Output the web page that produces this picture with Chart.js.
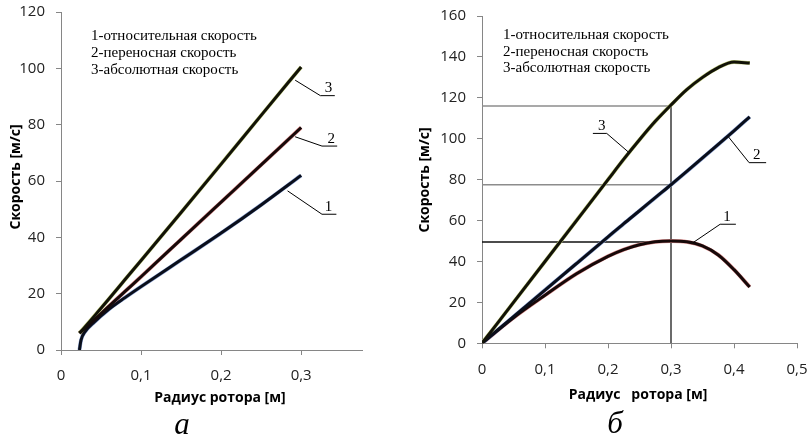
<!DOCTYPE html>
<html lang="ru">
<head>
<meta charset="utf-8">
<title>Скорость в зависимости от радиуса ротора</title>
<script src="https://cdn.jsdelivr.net/npm/chart.js@4.4.1/dist/chart.umd.min.js"></script>
<style>
  html, body { margin: 0; padding: 0; background: #fff; }
  #wrap { position: relative; width: 811px; height: 437px; overflow: hidden; }
  canvas { position: absolute; top: 0; }
  #chartA { left: 0; }
  #chartB { left: 400px; }
</style>
</head>
<body>
<div id="wrap">
  <canvas id="chartA" width="400" height="437"></canvas>
  <canvas id="chartB" width="411" height="437"></canvas>
</div>
<script>
// ---- panel "а" -------------------------------------------------------
const radiusA   = [0.023, 0.025, 0.03, 0.04, 0.06, 0.08, 0.1, 0.15, 0.2, 0.25, 0.3];
const relSpeedA = [0, 3.5, 6.5, 9.5, 14.5, 18.6, 22.5, 32, 41.5, 51.5, 62];
const trnSpeedA = [6, 6.5, 7.8, 10.3, 15.6, 20.8, 26, 39.3, 52.5, 65.7, 79];
const absSpeedA = [6, 6.6, 8.2, 11.5, 18.2, 25, 31.8, 48.8, 66, 83.3, 100.5];
const xTicksA   = [0, 0.1, 0.2, 0.3];
const yTicksA   = [0, 20, 40, 60, 80, 100, 120];

// ---- panel "б" -------------------------------------------------------
const radiusB   = [0, 0.05, 0.1, 0.15, 0.2, 0.225, 0.25, 0.275, 0.3, 0.325, 0.35, 0.375, 0.4, 0.425];
const relSpeedB = [0, 12.5, 23.5, 34, 42.5, 45.8, 48.2, 49.6, 50, 49.6, 47.6, 43.2, 36, 27.5];
const trnSpeedB = [0, 13, 26, 39, 52, 58.5, 64.8, 71.2, 77.5, 84, 90.6, 97.2, 103.9, 110.7];
const absSpeedB = [0, 20, 40, 60, 80, 90, 99.5, 108.5, 116.5, 124, 130, 134.8, 137.5, 137];
const xTicksB   = [0, 0.1, 0.2, 0.3, 0.4, 0.5];
const yTicksB   = [0, 20, 40, 60, 80, 100, 120, 140, 160];

// read-off lines at r = 0.3 m
const guideRadiusB = 0.3;
const guideLevelsB = [116, 77.5, 49.5];

const legendLines = ['1-относительная скорость', '2-переносная скорость', '3-абсолютная скорость'];

const AXIS = '#868686';
const TICK_FONT = { family: '"Open Sans", sans-serif', size: 15 };
const SERIF = '"Liberation Serif", "Times New Roman", serif';
const SANS_BOLD = 'bold 14px "Open Sans", sans-serif';

const pts = (xs, ys) => xs.map((x, i) => ({ x, y: ys[i] }));
const fmt = (v) => (v === 0 ? '0' : String(v).replace('.', ','));

// Each curve: a thin coloured fringe under a dark core line
function curve(xs, ys, fringe, core) {
  const data = pts(xs, ys);
  const base = { data, pointRadius: 0, cubicInterpolationMode: 'monotone', fill: false };
  return [
    { ...base, borderColor: core, borderWidth: 3, order: 1 },
    { ...base, borderColor: fringe, borderWidth: 3.9, order: 2 },
  ];
}

function straight(data, color, width, order) {
  return { data, borderColor: color, borderWidth: width, pointRadius: 0, tension: 0, fill: false, order };
}

function leader(coords) {
  return straight(coords.map(([x, y]) => ({ x, y })), '#000', 1, 0);
}

function axes(xTicks, yTicks, xMax, yMax, yWidth, xHeight) {
  const common = {
    type: 'linear',
    border: { color: AXIS, width: 1 },
    grid: { drawOnChartArea: false, drawTicks: true, tickLength: 5, color: AXIS },
  };
  return {
    x: {
      ...common,
      min: 0,
      max: xMax,
      afterBuildTicks: (s) => { s.ticks = xTicks.map((value) => ({ value })); },
      afterFit: (s) => { s.height = xHeight; s.paddingLeft = 0; s.paddingRight = 0; },
      ticks: { color: '#222', font: TICK_FONT, padding: 12, maxRotation: 0, callback: (v) => fmt(v) },
    },
    y: {
      ...common,
      min: 0,
      max: yMax,
      afterBuildTicks: (s) => { s.ticks = yTicks.map((value) => ({ value })); },
      afterFit: (s) => { s.width = yWidth; s.paddingTop = 0; s.paddingBottom = 0; },
      ticks: { color: '#222', font: TICK_FONT, padding: 11, callback: (v) => fmt(v) },
    },
  };
}

// Legend block, curve numbers, axis titles and the panel letter
const panelText = {
  id: 'panelText',
  afterDraw(chart, args, o) {
    const { ctx } = chart;
    const { x, y } = chart.scales;
    ctx.save();
    ctx.fillStyle = '#000';

    ctx.font = '15px ' + SERIF;
    ctx.textAlign = 'left';
    ctx.textBaseline = 'alphabetic';
    legendLines.forEach((t, i) => ctx.fillText(t, o.legendX, o.legendY + i * o.legendStep));

    ctx.textAlign = 'center';
    o.numbers.forEach((n) => ctx.fillText(n.text, x.getPixelForValue(n.r), y.getPixelForValue(n.v)));

    ctx.font = SANS_BOLD;
    ctx.textBaseline = 'middle';
    ctx.fillText(o.xTitle, o.xTitleAt[0], o.xTitleAt[1]);
    ctx.save();
    ctx.translate(o.yTitleAt[0], o.yTitleAt[1]);
    ctx.rotate(-Math.PI / 2);
    ctx.fillText('Скорость [м/с]', 0, 0);
    ctx.restore();

    ctx.font = 'italic 31px ' + SERIF;
    ctx.textBaseline = 'alphabetic';
    ctx.fillText(o.caption, o.captionAt[0], o.captionAt[1]);
    ctx.restore();
  },
};

const baseOptions = {
  responsive: false,
  animation: false,
  events: [],
  plugins: { legend: { display: false }, tooltip: { enabled: false } },
};

// ---- chart "а" -------------------------------------------------------
new Chart(document.getElementById('chartA'), {
  type: 'line',
  data: {
    datasets: [
      ...curve(radiusA, absSpeedA, '#c4cf80', '#121208'),
      ...curve(radiusA, trnSpeedA, '#dc8c8c', '#160909'),
      ...curve(radiusA, relSpeedA, '#8aa2d4', '#0a0e1a'),
      leader([[0.2925, 95.8], [0.324, 90.3], [0.342, 90.3]]),
      leader([[0.2925, 75.7], [0.326, 72.4], [0.345, 72.4]]),
      leader([[0.283, 56.5], [0.326, 48.2], [0.344, 48.2]]),
    ],
  },
  options: {
    ...baseOptions,
    layout: { padding: { top: 12, right: 38, bottom: 0, left: 0 } },
    scales: axes(xTicksA, yTicksA, 0.376, 120, 61, 87),
    plugins: {
      ...baseOptions.plugins,
      panelText: {
        legendX: 91, legendY: 40, legendStep: 17,
        numbers: [
          { text: '3', r: 0.334, v: 91.5 },
          { text: '2', r: 0.3375, v: 73.6 },
          { text: '1', r: 0.334, v: 49.4 },
        ],
        xTitle: 'Радиус ротора [м]', xTitleAt: [220, 398],
        yTitleAt: [16, 177],
        caption: 'а', captionAt: [182, 434],
      },
    },
  },
  plugins: [panelText],
});

// ---- chart "б" -------------------------------------------------------
const guides = [
  straight(pts([0, guideRadiusB], [guideLevelsB[0], guideLevelsB[0]]), '#8c8c8c', 1.5, 5),
  straight(pts([0, guideRadiusB], [guideLevelsB[1], guideLevelsB[1]]), '#8c8c8c', 1.5, 5),
  straight(pts([0, guideRadiusB], [guideLevelsB[2], guideLevelsB[2]]), '#111', 1.5, 5),
  straight(pts([guideRadiusB, guideRadiusB], [0, guideLevelsB[0]]), '#3a3a3a', 1.5, 5),
];

new Chart(document.getElementById('chartB'), {
  type: 'line',
  data: {
    datasets: [
      ...curve(radiusB, absSpeedB, '#c4cf80', '#121208'),
      ...curve(radiusB, trnSpeedB, '#8aa2d4', '#0a0e1a'),
      ...curve(radiusB, relSpeedB, '#dc8c8c', '#160909'),
      ...guides,
      leader([[0.232, 93.6], [0.198, 102.6], [0.176, 102.6]]),
      leader([[0.391, 101], [0.424, 88.3], [0.451, 88.3]]),
      leader([[0.335, 49.2], [0.378, 58.2], [0.403, 58.2]]),
    ],
  },
  options: {
    ...baseOptions,
    layout: { padding: { top: 16, right: 14, bottom: 0, left: 0 } },
    scales: axes(xTicksB, yTicksB, 0.5, 160, 82, 93.7),
    plugins: {
      ...baseOptions.plugins,
      panelText: {
        legendX: 103, legendY: 39, legendStep: 16.5,
        numbers: [
          { text: '3', r: 0.19, v: 104.5 },
          { text: '2', r: 0.436, v: 90.3 },
          { text: '1', r: 0.389, v: 59.7 },
        ],
        xTitle: 'Радиус   ротора [м]', xTitleAt: [238, 395],
        yTitleAt: [25, 180],
        caption: 'б', captionAt: [215, 433],
      },
    },
  },
  plugins: [panelText],
});
</script>
</body>
</html>
